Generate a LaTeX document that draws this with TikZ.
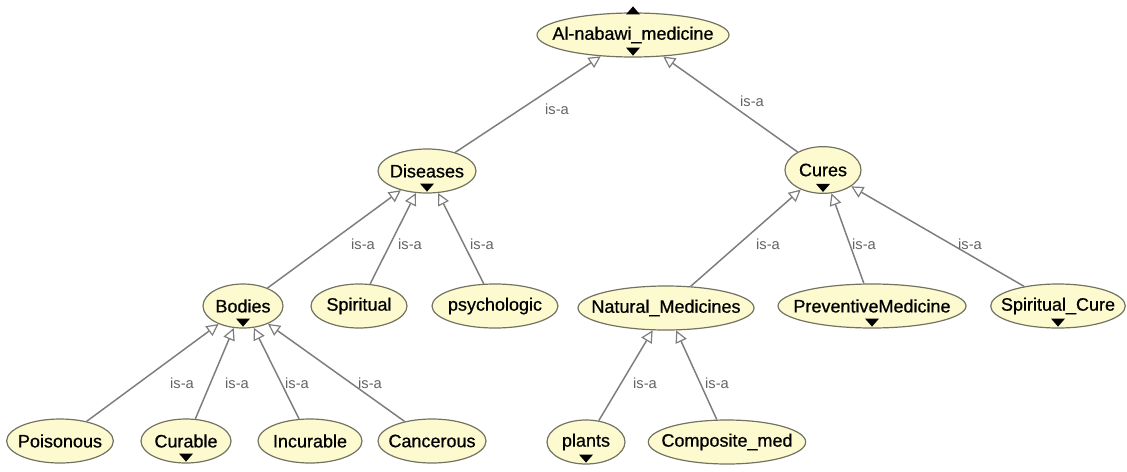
\documentclass[tikz,border=0pt]{standalone}
\usepackage{fontspec}
\setmainfont{Liberation Sans}
\newfontfamily\classfont{Liberation Sans}[FakeBold=0.6]
\usetikzlibrary{shapes.geometric,arrows.meta,calc}
\definecolor{nodefill}{RGB}{252,250,206}
\definecolor{nodeline}{RGB}{115,115,100}
\definecolor{edgegray}{RGB}{125,125,125}
\definecolor{labelgray}{RGB}{100,100,100}
% class name set in a zero-width box so that only the minimum size shapes the ellipse
\newcommand\nodetxt[1]{\makebox[0pt]{#1}}
\begin{document}
\begin{tikzpicture}[x=0.75pt,y=-0.75pt,
  cls/.style={ellipse, draw=nodeline, line width=0.9pt, fill=nodefill,
    inner sep=0pt, minimum height=33pt, minimum width=#1,
    font=\classfont\fontsize{13.5}{16}\selectfont},
  isa/.style={draw=edgegray, line width=1.1pt,
    -{Triangle[length=9pt,width=9pt,fill=white,line width=0.9pt]}},
  lbl/.style={text=labelgray, font=\fontsize{11}{13}\selectfont, inner sep=0pt},
  ]
\fill[white] (0,0) rectangle (1127,471);
\useasboundingbox (0,0) rectangle (1127,471);

% class hierarchy
\node[cls=144pt] (al) at (633,35) {\nodetxt{Al-nabawi\_medicine}};

\node[cls=73.5pt] (dis) at (427,171) {\nodetxt{Diseases}};
\node[cls=57pt, minimum height=35pt] (cur) at (823,170) {\nodetxt{Cures}};

\node[cls=60pt] (bod) at (243,306) {\nodetxt{Bodies}};
\node[cls=72pt] (spi) at (359,306) {\nodetxt{Spiritual}};
\node[cls=94.5pt] (psy) at (495,306) {\nodetxt{psychologic}};
\node[cls=132pt] (nat) at (666,308) {\nodetxt{Natural\_Medicines}};
\node[cls=141pt] (pre) at (872,306) {\nodetxt{PreventiveMedicine}};
\node[cls=101pt] (sc) at (1058,306) {\nodetxt{Spiritual\_Cure}};

\node[cls=80pt] (poi) at (60,441) {\nodetxt{Poisonous}};
\node[cls=67.5pt] (cura) at (186,441) {\nodetxt{Curable}};
\node[cls=78pt] (inc) at (310,441) {\nodetxt{Incurable}};
\node[cls=81pt] (can) at (432,441) {\nodetxt{Cancerous}};
\node[cls=58.5pt] (plants) at (586,442) {\nodetxt{plants}};
\node[cls=118pt] (comp) at (727,442) {\nodetxt{Composite\_med}};

% expand / collapse markers
\fill ($(al.north)+(-7,2)$) -- ++(14,0) -- ++(-7,-8) -- cycle;
\foreach \n in {al,dis,cur,bod,cura,plants,pre,sc}
  \fill ($(\n.south)+(-7,-10)$) -- ++(14,0) -- ++(-7,8) -- cycle;

% is-a links
\draw[isa] (dis) -- (al);
\draw[isa] (cur) -- (al);
\draw[isa] (bod) -- (dis);
\draw[isa] (spi) -- (dis);
\draw[isa] (psy) -- (dis);
\draw[isa] (nat) -- (cur);
\draw[isa] (pre) -- (cur);
\draw[isa] (sc) -- (cur);
\draw[isa] (poi) -- (bod);
\draw[isa] (cura) -- (bod);
\draw[isa] (inc) -- (bod);
\draw[isa] (can) -- (bod);
\draw[isa] (plants) -- (nat);
\draw[isa] (comp) -- (nat);

% link labels
\node[lbl] (l1) at (557,109) {is-a};
\node[lbl] (l2) at (752,101) {is-a};
\node[lbl] (l3) at (363,244) {is-a};
\node[lbl] (l4) at (410,244) {is-a};
\node[lbl] (l5) at (482,244) {is-a};
\node[lbl] (l6) at (768,244) {is-a};
\node[lbl] (l7) at (864,244) {is-a};
\node[lbl] (l8) at (970,244) {is-a};
\node[lbl] (l9) at (182,383) {is-a};
\node[lbl] (l10) at (237,383) {is-a};
\node[lbl] (l11) at (297,383) {is-a};
\node[lbl] (l12) at (370,383) {is-a};
\node[lbl] (l13) at (645,383) {is-a};
\node[lbl] (l14) at (717,383) {is-a};
\end{tikzpicture}
\end{document}
